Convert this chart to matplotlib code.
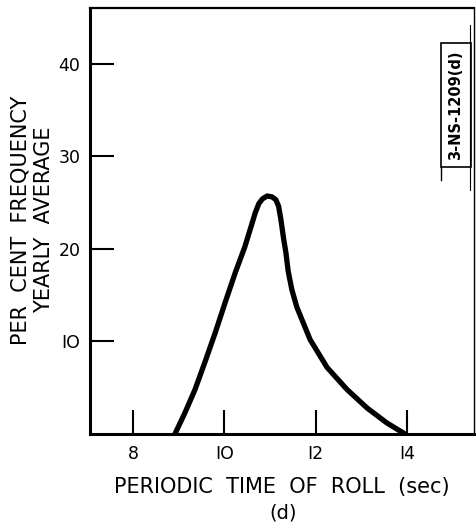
import matplotlib.pyplot as plt
from matplotlib.patches import Rectangle

# roll period (sec) vs yearly average per cent frequency
period = [8.92, 9.14, 9.36, 9.58, 9.80, 10.02, 10.24, 10.45, 10.60, 10.68,
          10.76, 10.84, 10.94, 11.05, 11.13, 11.19, 11.24, 11.30, 11.35, 11.40,
          11.48, 11.59, 11.88, 12.25, 12.69, 13.13, 13.56, 13.96]
frequency = [0.0, 2.3, 4.8, 7.8, 10.9, 14.2, 17.4, 20.2, 22.6, 23.9,
             24.9, 25.4, 25.7, 25.6, 25.3, 24.6, 23.2, 21.1, 19.6, 17.6,
             15.6, 13.7, 10.2, 7.2, 4.8, 2.8, 1.2, 0.0]

x_ticks = [8, 10, 12, 14]
y_ticks = [10, 20, 30, 40]
tick_labels_y = ["IO", "20", "30", "40"]
tick_labels_x = ["8", "IO", "I2", "I4"]

plt.rcParams["font.family"] = ["DejaVu Sans"]

fig = plt.figure(figsize=(4.76, 5.25), dpi=100)
ax = fig.add_axes([90 / 476, (525 - 434) / 525, (474 - 90) / 476, (434 - 8) / 525])

ax.plot(period, frequency, color="black", lw=3.8, solid_capstyle="round",
        solid_joinstyle="round")

ax.set_xlim(7.06, 15.47)
ax.set_ylim(0, 46)
ax.set_xticks(x_ticks)
ax.set_xticklabels(tick_labels_x, fontsize=12.5)
ax.set_yticks(y_ticks)
ax.set_yticklabels(tick_labels_y, fontsize=12.5)
ax.tick_params(direction="in", length=17, width=1.5, pad=8)
ax.tick_params(axis="y", pad=7)

for side in ["left", "bottom"]:
    ax.spines[side].set_linewidth(2.2)
ax.spines["top"].set_linewidth(1.6)
ax.spines["right"].set_linewidth(1.0)

ax.set_xlabel("PERIODIC  TIME  OF  ROLL  (sec)", fontsize=15, labelpad=10)
fig.text(283 / 476, 1 - 513 / 525, "(d)", fontsize=14, ha="center", va="center")

# two-line y label
fig.text(21 / 476, 1 - 220 / 525, "PER  CENT  FREQUENCY", rotation=90,
         fontsize=15, ha="center", va="center")
fig.text(44 / 476, 1 - 220 / 525, "YEARLY  AVERAGE", rotation=90,
         fontsize=15, ha="center", va="center")

# drawing number stamp
fig.patches.append(Rectangle((441 / 476, 1 - 167 / 525), 30 / 476, 124 / 525,
                             transform=fig.transFigure, fill=False,
                             edgecolor="black", lw=1.2))
fig.text(456 / 476, 1 - 105 / 525, "3-NS-1209(d)", rotation=90, fontsize=10.5,
         fontweight="bold", ha="center", va="center")
fig.add_artist(plt.Line2D([441 / 476, 441 / 476], [1 - 167 / 525, 1 - 180 / 525],
                          transform=fig.transFigure, color="black", lw=1.0))
fig.add_artist(plt.Line2D([470 / 476, 470 / 476], [1 - 25 / 525, 1 - 190 / 525],
                          transform=fig.transFigure, color="black", lw=0.8))

fig.savefig("out.png", dpi=100)
